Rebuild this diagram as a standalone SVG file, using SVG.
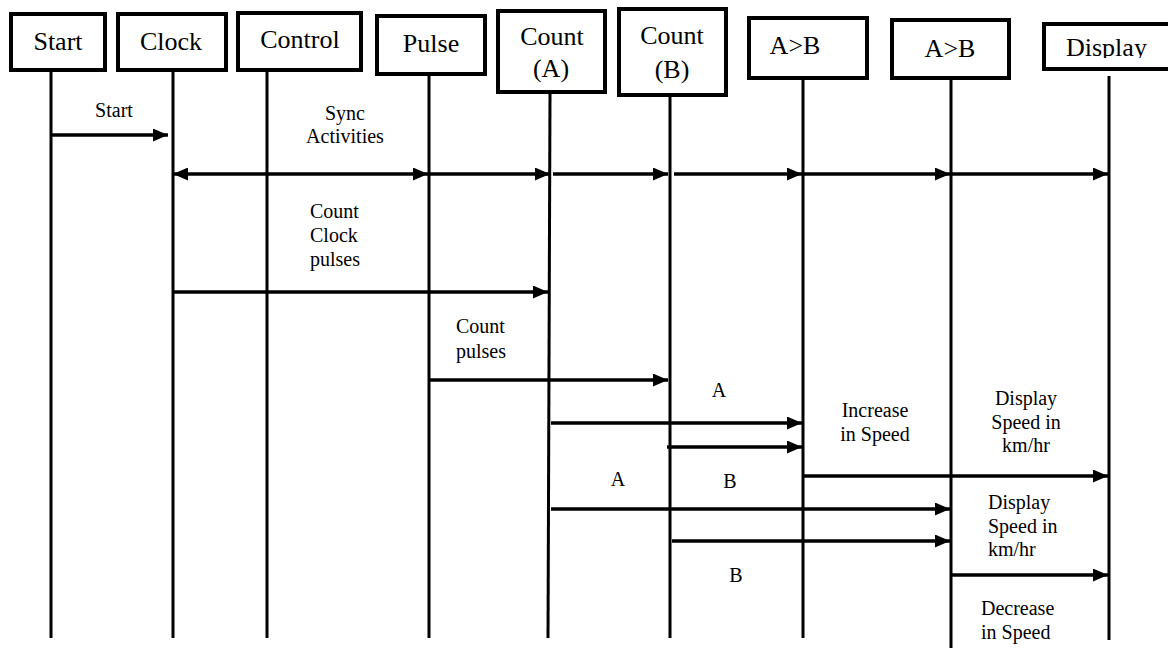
<svg xmlns="http://www.w3.org/2000/svg" width="1168" height="648" viewBox="0 0 1168 648">
<style>
.box{fill:#fff;stroke:#000;stroke-width:4}
.life{stroke:#000;stroke-width:3;fill:none}
.msg{stroke:#000;stroke-width:3.3;fill:none;marker-end:url(#ah)}
text{font-family:'Liberation Serif','Times New Roman',Tinos,'DejaVu Serif',serif;fill:#000}
.bl{font-size:26px;text-anchor:middle}
.lb{font-size:20px;text-anchor:middle}
.ll{font-size:20px;text-anchor:start}
</style>
<defs>
<marker id="ah" markerUnits="userSpaceOnUse" markerWidth="15" markerHeight="13" refX="15" refY="6.5" orient="auto-start-reverse">
<path d="M0,0 L15,6.5 L0,13 z" fill="#000"/>
</marker>
<clipPath id="dclip"><rect x="1040" y="0" width="130" height="58"/></clipPath>
</defs>
<rect width="1168" height="648" fill="#fff"/>

<g id="start">
<rect class="box" x="11" y="14" width="94" height="56"/>
<text class="bl" x="58" y="50" font-family="Liberation Serif, serif">Start</text>
<line class="life" x1="51" y1="72" x2="51" y2="638"/>
</g>
<g id="clock">
<rect class="box" x="118" y="14" width="108" height="56"/>
<text class="bl" x="171" y="50">Clock</text>
<line class="life" x1="173" y1="72" x2="173" y2="638"/>
</g>
<g id="control">
<rect class="box" x="238" y="13" width="123" height="57"/>
<text class="bl" x="300" y="48">Control</text>
<line class="life" x1="267" y1="72" x2="267" y2="638"/>
</g>
<g id="pulse">
<rect class="box" x="377" y="16" width="108" height="58"/>
<text class="bl" x="431" y="52">Pulse</text>
<line class="life" x1="429" y1="76" x2="429" y2="638"/>
</g>
<g id="countA">
<rect class="box" x="498" y="11" width="107" height="81"/>
<text class="bl" x="552" y="45">Count</text>
<text class="bl" x="551" y="77">(A)</text>
<line class="life" x1="550" y1="94" x2="548" y2="638"/>
</g>
<g id="countB">
<rect class="box" x="619" y="9" width="107" height="86"/>
<text class="bl" x="672" y="44">Count</text>
<text class="bl" x="672" y="78">(B)</text>
<line class="life" x1="670" y1="97" x2="670" y2="638"/>
</g>
<g id="cmp1">
<rect class="box" x="749" y="18" width="118" height="60"/>
<text class="bl" x="795" y="54">A&gt;B</text>
<line class="life" x1="803" y1="80" x2="803" y2="638"/>
</g>
<g id="cmp2">
<rect class="box" x="892" y="20" width="117" height="58"/>
<text class="bl" x="950" y="57">A&gt;B</text>
<line class="life" x1="951" y1="76" x2="951" y2="648"/>
</g>
<g id="display">
<rect class="box" x="1044" y="24" width="140" height="45"/>
<text class="bl" x="1066" y="56" style="text-anchor:start" clip-path="url(#dclip)">Display</text>
<line class="life" x1="1109" y1="76" x2="1109" y2="640"/>
</g>

<g id="connectors">
<line class="msg" x1="51" y1="135" x2="168" y2="135"/>
<line class="msg" x1="428" y1="174" x2="173" y2="174" style="marker-start:url(#ah)"/>
<line class="msg" x1="429" y1="174" x2="550" y2="174"/>
<line class="msg" x1="553" y1="174" x2="668" y2="174"/>
<line class="msg" x1="674" y1="174" x2="802" y2="174"/>
<line class="msg" x1="803" y1="174" x2="950" y2="174"/>
<line class="msg" x1="951" y1="174" x2="1108" y2="174"/>
<line class="msg" x1="173" y1="292" x2="548" y2="292"/>
<line class="msg" x1="429" y1="380" x2="668" y2="380"/>
<line class="msg" x1="551" y1="423" x2="802" y2="423"/>
<line class="msg" x1="667" y1="447" x2="802" y2="447"/>
<line class="msg" x1="803" y1="476" x2="1108" y2="476"/>
<line class="msg" x1="551" y1="509" x2="950" y2="509"/>
<line class="msg" x1="672" y1="541" x2="950" y2="541"/>
<line class="msg" x1="951" y1="575" x2="1108" y2="575"/>
</g>

<g id="labels">
<text class="lb" x="114" y="117">Start</text>
<text class="lb" x="345" y="120">Sync</text>
<text class="lb" x="345" y="143">Activities</text>
<text class="ll" x="310" y="218">Count</text>
<text class="ll" x="310" y="242">Clock</text>
<text class="ll" x="310" y="266">pulses</text>
<text class="ll" x="456" y="333">Count</text>
<text class="ll" x="456" y="358">pulses</text>
<text class="lb" x="719" y="397">A</text>
<text class="lb" x="875" y="417">Increase</text>
<text class="lb" x="875" y="441">in Speed</text>
<text class="lb" x="1026" y="405">Display</text>
<text class="lb" x="1026" y="429">Speed in</text>
<text class="lb" x="1026" y="452">km/hr</text>
<text class="lb" x="618" y="486">A</text>
<text class="lb" x="730" y="488">B</text>
<text class="ll" x="988" y="509">Display</text>
<text class="ll" x="988" y="533">Speed in</text>
<text class="ll" x="988" y="556">km/hr</text>
<text class="lb" x="736" y="582">B</text>
<text class="ll" x="981" y="615">Decrease</text>
<text class="ll" x="981" y="639">in Speed</text>
</g>
</svg>
